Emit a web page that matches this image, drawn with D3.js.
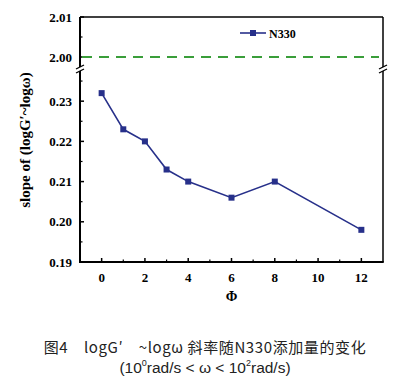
<!DOCTYPE html>
<html><head><meta charset="utf-8">
<script src="https://cdn.jsdelivr.net/npm/d3@7"></script>
<style>body{margin:0;background:#fff}svg{display:block}</style>
</head><body>
<svg id="c" width="411" height="379"></svg>
<script>
const phi = [0, 1, 2, 3, 4, 6, 8, 12];
const slope = [0.232, 0.223, 0.220, 0.213, 0.210, 0.206, 0.210, 0.198];
const refValue = [2.00];
const xTicks = [0, 2, 4, 6, 8, 10, 12];
const yTicksLow = [0.19, 0.20, 0.21, 0.22, 0.23];
const yTicksHigh = [2.00, 2.01];
const seriesName = "N330";
const xTitle = "Φ";
const yTitle = "slope of (logG′~logω)";
const caption1 = "图4　logG′　~logω 斜率随N330添加量的变化";

const svg = d3.select("#c");
const L = 80, R = 383, T = 17, B = 262, BRK = 69;
const x = d3.scaleLinear().domain([-1, 13]).range([L, R]);
const yLow = d3.scaleLinear().domain([0.19, 0.238]).range([B, BRK]);
const yHigh = d3.scaleLinear().domain([1.997, 2.01]).range([BRK, T]);
const serif = "'Liberation Serif','Times New Roman',serif";
const navy = "#27308a";

// frame
svg.append("line").attr("x1", L).attr("x2", R).attr("y1", T).attr("y2", T).attr("stroke", "#000").attr("stroke-width", 1.5);
svg.append("line").attr("x1", R).attr("x2", R).attr("y1", T).attr("y2", B).attr("stroke", "#000").attr("stroke-width", 1.5);
svg.append("line").attr("x1", L).attr("x2", L).attr("y1", T).attr("y2", B + 1).attr("stroke", "#000").attr("stroke-width", 2);
svg.append("line").attr("x1", L - 1).attr("x2", R + 0.75).attr("y1", B).attr("y2", B).attr("stroke", "#000").attr("stroke-width", 2);

// x ticks
const xMinor = d3.range(-1, 14, 2).filter(v => v > -1 && v < 13);
xTicks.forEach(v => {
  svg.append("line").attr("x1", x(v)).attr("x2", x(v)).attr("y1", B).attr("y2", B - 4).attr("stroke", "#000").attr("stroke-width", 1.5);
  svg.append("text").attr("x", x(v)).attr("y", B + 20).attr("text-anchor", "middle")
    .attr("font-family", serif).attr("font-weight", "bold").attr("font-size", 13).text(v);
});
xMinor.forEach(v => {
  svg.append("line").attr("x1", x(v)).attr("x2", x(v)).attr("y1", B).attr("y2", B - 2.5).attr("stroke", "#000").attr("stroke-width", 1.2);
});

// y ticks low
yTicksLow.forEach(v => {
  svg.append("line").attr("x1", L).attr("x2", L + 4).attr("y1", yLow(v)).attr("y2", yLow(v)).attr("stroke", "#000").attr("stroke-width", 1.5);
  svg.append("text").attr("x", L - 8).attr("y", yLow(v) + 4.5).attr("text-anchor", "end")
    .attr("font-family", serif).attr("font-weight", "bold").attr("font-size", 13).text(v.toFixed(2));
});
[0.195, 0.205, 0.215, 0.225, 0.235].forEach(v => {
  svg.append("line").attr("x1", L).attr("x2", L + 2.5).attr("y1", yLow(v)).attr("y2", yLow(v)).attr("stroke", "#000").attr("stroke-width", 1.2);
});
yTicksHigh.forEach(v => {
  svg.append("line").attr("x1", L).attr("x2", L + 4).attr("y1", yHigh(v)).attr("y2", yHigh(v)).attr("stroke", "#000").attr("stroke-width", 1.5);
  svg.append("text").attr("x", L - 8).attr("y", yHigh(v) + 4.5).attr("text-anchor", "end")
    .attr("font-family", serif).attr("font-weight", "bold").attr("font-size", 13).text(v.toFixed(2));
});
[2.005].forEach(v => {
  svg.append("line").attr("x1", L).attr("x2", L + 2.5).attr("y1", yHigh(v)).attr("y2", yHigh(v)).attr("stroke", "#000").attr("stroke-width", 1.2);
});

// break marks
[L, R].forEach(ax => {
  svg.append("rect").attr("x", ax - 3).attr("y", BRK - 2).attr("width", 6).attr("height", 4).attr("fill", "#fff");
  [-2, 2].forEach(d => {
    svg.append("line").attr("x1", ax - 4).attr("x2", ax + 4).attr("y1", BRK + d + 2).attr("y2", BRK + d - 2)
      .attr("stroke", "#000").attr("stroke-width", 1.3);
  });
});

// reference dashed line
refValue.forEach(v => {
  svg.append("line").attr("x1", L + 2).attr("x2", R - 4).attr("y1", yHigh(v)).attr("y2", yHigh(v))
    .attr("stroke", "#3a9e3a").attr("stroke-width", 2).attr("stroke-dasharray", "10,7");
});

// series
const pts = phi.map((p, i) => [p, slope[i]]);
svg.append("path").datum(pts)
  .attr("d", d3.line().x(d => x(d[0])).y(d => yLow(d[1])))
  .attr("fill", "none").attr("stroke", navy).attr("stroke-width", 1.6);
svg.selectAll("rect.m").data(pts).enter().append("rect").attr("class", "m")
  .attr("x", d => x(d[0]) - 3).attr("y", d => yLow(d[1]) - 3).attr("width", 6).attr("height", 6).attr("fill", navy);

// legend
svg.append("line").attr("x1", 240).attr("x2", 266).attr("y1", 33).attr("y2", 33).attr("stroke", navy).attr("stroke-width", 1.6);
svg.append("rect").attr("x", 250).attr("y", 30).attr("width", 6).attr("height", 6).attr("fill", navy);
svg.append("text").attr("x", 269).attr("y", 37.5).attr("font-family", serif).attr("font-weight", "bold").attr("font-size", 12).text(seriesName);

// axis titles
svg.append("text").attr("transform", "translate(30,140) rotate(-90)").attr("text-anchor", "middle")
  .attr("font-family", serif).attr("font-weight", "bold").attr("font-size", 15).text(yTitle);
svg.append("text").attr("x", x(6)).attr("y", 301).attr("text-anchor", "middle")
  .attr("font-family", serif).attr("font-weight", "bold").attr("font-size", 14).text(xTitle);

// caption
const sans = "'Noto Sans CJK SC','Liberation Sans',sans-serif";
svg.append("text").attr("x", 205).attr("y", 353).attr("text-anchor", "middle")
  .attr("font-family", sans).attr("font-size", 15).attr("letter-spacing", 0.6).attr("fill", "#222").text(caption1);
const c2 = svg.append("text").attr("x", 205).attr("y", 373).attr("text-anchor", "middle")
  .attr("font-family", "'Liberation Sans',sans-serif").attr("font-size", 15.5).attr("fill", "#222");
c2.append("tspan").text("(10");
c2.append("tspan").attr("font-size", 9).attr("dy", -7).text("0");
c2.append("tspan").attr("dy", 7).text("rad/s < ω < 10");
c2.append("tspan").attr("font-size", 9).attr("dy", -7).text("2");
c2.append("tspan").attr("dy", 7).text("rad/s)");
</script>
</body></html>
